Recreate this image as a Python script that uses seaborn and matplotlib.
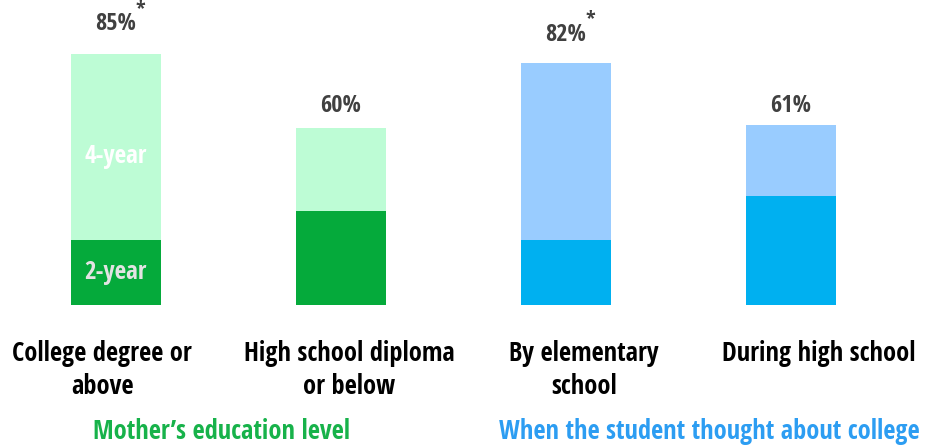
import matplotlib
matplotlib.use("Agg")
import matplotlib.pyplot as plt
import seaborn as sns
import pandas as pd

categories = ["College degree or\nabove", "High school diploma\nor below",
              "By elementary\nschool", "During high school"]
totals = [85, 60, 82, 61]
two_year = [22, 32, 22, 37]
starred = [True, False, True, False]
groups = ["Mother\u2019s education level", "When the student thought about college"]

light_colors = ["#BDFCD5", "#BDFCD5", "#99CCFF", "#99CCFF"]
dark_colors = ["#05AA3B", "#05AA3B", "#00B0F0", "#00B0F0"]
group_colors = ["#17B24A", "#2C9DF2"]

df = pd.DataFrame({"category": categories, "total": totals, "two_year": two_year})

sns.set_theme(style="white")
plt.rcParams["font.family"] = ["Open Sans Condensed", "Liberation Sans Narrow", "DejaVu Sans"]
plt.rcParams["font.weight"] = "bold"

W, H, DPI = 930, 445, 100
PT = 72 / DPI
fig = plt.figure(figsize=(W / DPI, H / DPI), dpi=DPI)
fig.patch.set_facecolor("white")

base_px = 140          # bottom of the bars, from the figure bottom
px_per_pct = 2.95
bar_pitch = 225
first_center = 115.5

ax = fig.add_axes([0, base_px / H, 1, (H - base_px) / H])

sns.barplot(data=df, x="category", y="total", hue="category", palette=light_colors,
            width=0.4, legend=False, ax=ax, saturation=1, linewidth=0)
sns.barplot(data=df, x="category", y="two_year", hue="category", palette=dark_colors,
            width=0.4, legend=False, ax=ax, saturation=1, linewidth=0)
ax.set_xlim(-first_center / bar_pitch, (W - first_center) / bar_pitch)
ax.set_ylim(0, (H - base_px) / px_per_pct)
ax.axis("off")

# value labels above each bar
gaps = [30, 22, 28, 19]
for i, (tot, star) in enumerate(zip(totals, starred)):
    ax.annotate(f"{tot}%", (i, tot), xytext=(0, gaps[i] * PT), textcoords="offset points",
                ha="center", va="center", fontsize=17.5, color="#404040", fontweight="bold")
    if star:
        ax.annotate("*", (i, tot), xytext=(25 * PT, (gaps[i] + 15) * PT),
                    textcoords="offset points", ha="center", va="center",
                    fontsize=15, color="#404040", fontweight="bold")

# segment names inside the first bar
ax.text(0, two_year[0] + (totals[0] - two_year[0]) / 2 - 3, "4-year", ha="center", va="center",
        fontsize=18, color="white", fontweight="bold")
ax.text(0, two_year[0] / 2, "2-year", ha="center", va="center",
        fontsize=18, color="#E3E3E3", fontweight="bold")

# category labels under the bars
label_x = [-0.06, 1.038, 2.082, 3.124]
for x, lab in zip(label_x, categories):
    ax.text(x, -11.8, lab, ha="center", va="top", fontsize=19, color="black",
            fontweight="bold", linespacing=1.3, clip_on=False)

# group titles
group_x = [0.471, 2.64]
for x, g, c in zip(group_x, groups, group_colors):
    ax.text(x, -42.8, g, ha="center", va="center", fontsize=19, color=c,
            fontweight="bold", clip_on=False)

fig.savefig("out.png", dpi=DPI, facecolor="white")
